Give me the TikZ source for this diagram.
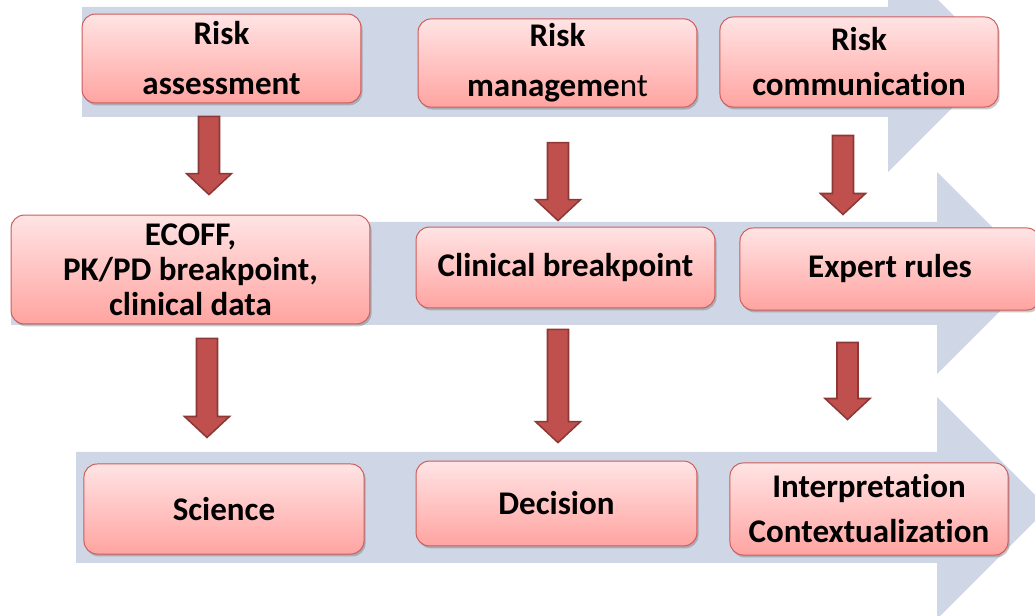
\documentclass[tikz,border=0pt]{standalone}
\usepackage{fontspec}
\setmainfont{Carlito}[Ligatures=NoCommon]
\usepackage{tikz}
\usetikzlibrary{calc,shadows}

\definecolor{bandblue}{RGB}{207,214,230}
\definecolor{boxtop}{RGB}{255,228,228}
\definecolor{boxbot}{RGB}{255,164,161}
\definecolor{boxline}{RGB}{205,92,90}
\definecolor{arrowfill}{RGB}{192,80,77}
\definecolor{arrowline}{RGB}{140,56,54}

\begin{document}
\begin{tikzpicture}[
  x=0.025cm, y=-0.025cm,
  box/.style={rectangle, draw=boxline, line width=0.7pt, rounded corners=0.33cm,
    top color=boxtop, bottom color=boxbot, align=center, text=black,
    font=\fontsize{23.5}{25}\selectfont\bfseries,
    drop shadow={shadow xshift=0.04cm, shadow yshift=-0.06cm, opacity=0.3, fill=black!70}},
  blockto/.style={fill=arrowfill, draw=arrowline, line width=1.1pt, line join=miter,
    to path={let \p1=(\tikztostart), \p2=(\tikztotarget) in
      (\x1-0.2625cm,\y1) -- (\x1+0.2625cm,\y1) -- (\x1+0.2625cm,\y2+0.525cm)
      -- (\x1+0.5625cm,\y2+0.525cm) -- (\x1,\y2) -- (\x1-0.5625cm,\y2+0.525cm)
      -- (\x1-0.2625cm,\y2+0.525cm) -- cycle}},
]
\useasboundingbox (0,0) rectangle (1035,616);

\fill[bandblue] (82,7) -- (888,7) -- (888,-50) -- (999,61) -- (888,172) -- (888,117) -- (82,117) -- cycle;
\fill[bandblue] (11,222) -- (937,222) -- (937,172) -- (1038,273) -- (937,374) -- (937,325) -- (11,325) -- cycle;
\fill[bandblue] (76,452) -- (937,452) -- (937,397) -- (1048,508) -- (937,619) -- (937,563) -- (76,563) -- cycle;

\node[box, minimum width=6.97cm, minimum height=2.22cm] (assess) at (221.5,58.5) {Risk\\[10.6pt]assessment};
\node[box, minimum width=6.97cm, minimum height=2.2cm] (manage) at (557.5,63) {Risk\\[10.6pt]manageme{\mdseries nt}};
\node[box, minimum width=6.95cm, minimum height=2.25cm] (commun) at (859,62) {Risk\\[7pt]communication};

\node[box, minimum width=8.97cm, minimum height=2.72cm] (ecoff) at (190.5,269.5) {ECOFF,\\PK/PD breakpoint,\\clinical data};
\node[box, minimum width=7.47cm, minimum height=2.02cm] (clinbp) at (565.5,267.5) {Clinical breakpoint};
\node[box, minimum width=7.5cm, minimum height=2.05cm] (expert) at (890,269) {Expert rules};

\node[box, minimum width=7cm, minimum height=2.25cm] (science) at (224,509) {Science};
\node[box, minimum width=7.02cm, minimum height=2.12cm] (decision) at (556.5,503.5) {Decision};
\node[box, minimum width=6.95cm, minimum height=2.3cm] (interp) at (869,509) {Interpretation\\[7pt]Contextualization};

\draw[blockto] ([shift={(-12.5,13)}]assess.south) to ([shift={(18.5,-20)}]ecoff.north);
\draw[blockto] ([shift={(0.5,35)}]manage.south) to ([shift={(-7.5,-6)}]clinbp.north);
\draw[blockto] ([shift={(-16,28)}]commun.south) to ([shift={(-47,-13)}]expert.north);
\draw[blockto] ([shift={(16.5,14)}]ecoff.south) to ([shift={(-17,-26)}]science.north);
\draw[blockto] ([shift={(-7.5,21)}]clinbp.south) to ([shift={(1.5,-18)}]decision.north);
\draw[blockto] ([shift={(-42.5,32)}]expert.south) to ([shift={(-21.5,-43)}]interp.north);
\end{tikzpicture}
\end{document}
